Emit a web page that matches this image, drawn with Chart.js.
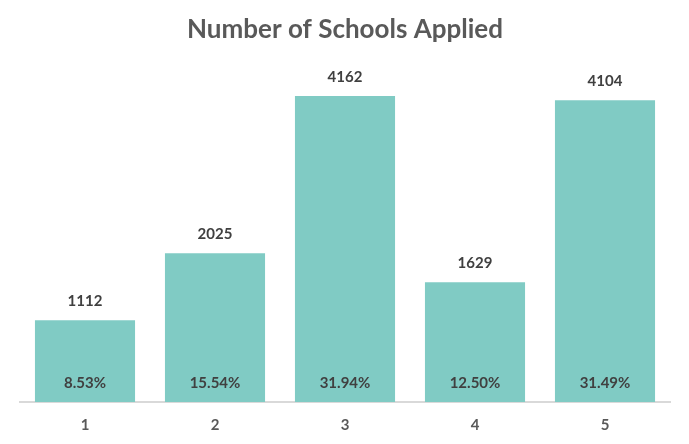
<!DOCTYPE html>
<html>
<head>
<meta charset="utf-8">
<script src="https://cdn.jsdelivr.net/npm/chart.js@4"></script>
<style>
  html, body { margin: 0; padding: 0; background: #fff; }
  #wrap { width: 689px; height: 444px; }
</style>
</head>
<body>
<div id="wrap"><canvas id="chart" width="689" height="444"></canvas></div>
<script>
// data
const categories = ['1', '2', '3', '4', '5'];
const schoolCounts = [1112, 2025, 4162, 1629, 4104];
const shareLabels = ['8.53%', '15.54%', '31.94%', '12.50%', '31.49%'];

const FONT = 'Lato, "Open Sans", sans-serif';
const TEXT_DARK = '#404040';
const TEXT_GREY = '#595959';

// draws the count above each bar and the share near the bar base
const barLabels = {
  id: 'barLabels',
  afterDatasetsDraw(chart) {
    const { ctx } = chart;
    const meta = chart.getDatasetMeta(0);
    ctx.save();
    ctx.font = 'bold 15px ' + FONT;
    ctx.fillStyle = TEXT_DARK;
    ctx.textAlign = 'center';
    ctx.textBaseline = 'middle';
    meta.data.forEach((bar, i) => {
      ctx.fillText(String(schoolCounts[i]), bar.x, bar.y - 19);
      ctx.fillText(shareLabels[i], bar.x, bar.base - 19);
    });
    ctx.restore();
  }
};

new Chart(document.getElementById('chart'), {
  type: 'bar',
  data: {
    labels: categories,
    datasets: [{
      data: schoolCounts,
      backgroundColor: '#80CBC4',
      borderWidth: 0,
      barPercentage: 0.77,
      categoryPercentage: 1,
    }],
  },
  options: {
    responsive: false,
    animation: false,
    layout: { padding: { left: 20, right: 19, top: 0, bottom: 4 } },
    scales: {
      x: {
        grid: { display: false },
        border: { display: true, color: '#D9D9D9', width: 2 },
        ticks: {
          color: TEXT_GREY,
          font: { family: FONT, size: 15, weight: 'bold' },
          padding: 6,
        },
      },
      y: {
        display: false,
        min: 0,
        max: 4500,
      },
    },
    plugins: {
      legend: { display: false },
      tooltip: { enabled: false },
      title: {
        display: true,
        text: 'Number of Schools Applied',
        color: TEXT_GREY,
        font: { family: FONT, size: 26, weight: 'bold' },
        padding: { top: 14, bottom: 26 },
      },
    },
  },
  plugins: [barLabels],
});
</script>
</body>
</html>
